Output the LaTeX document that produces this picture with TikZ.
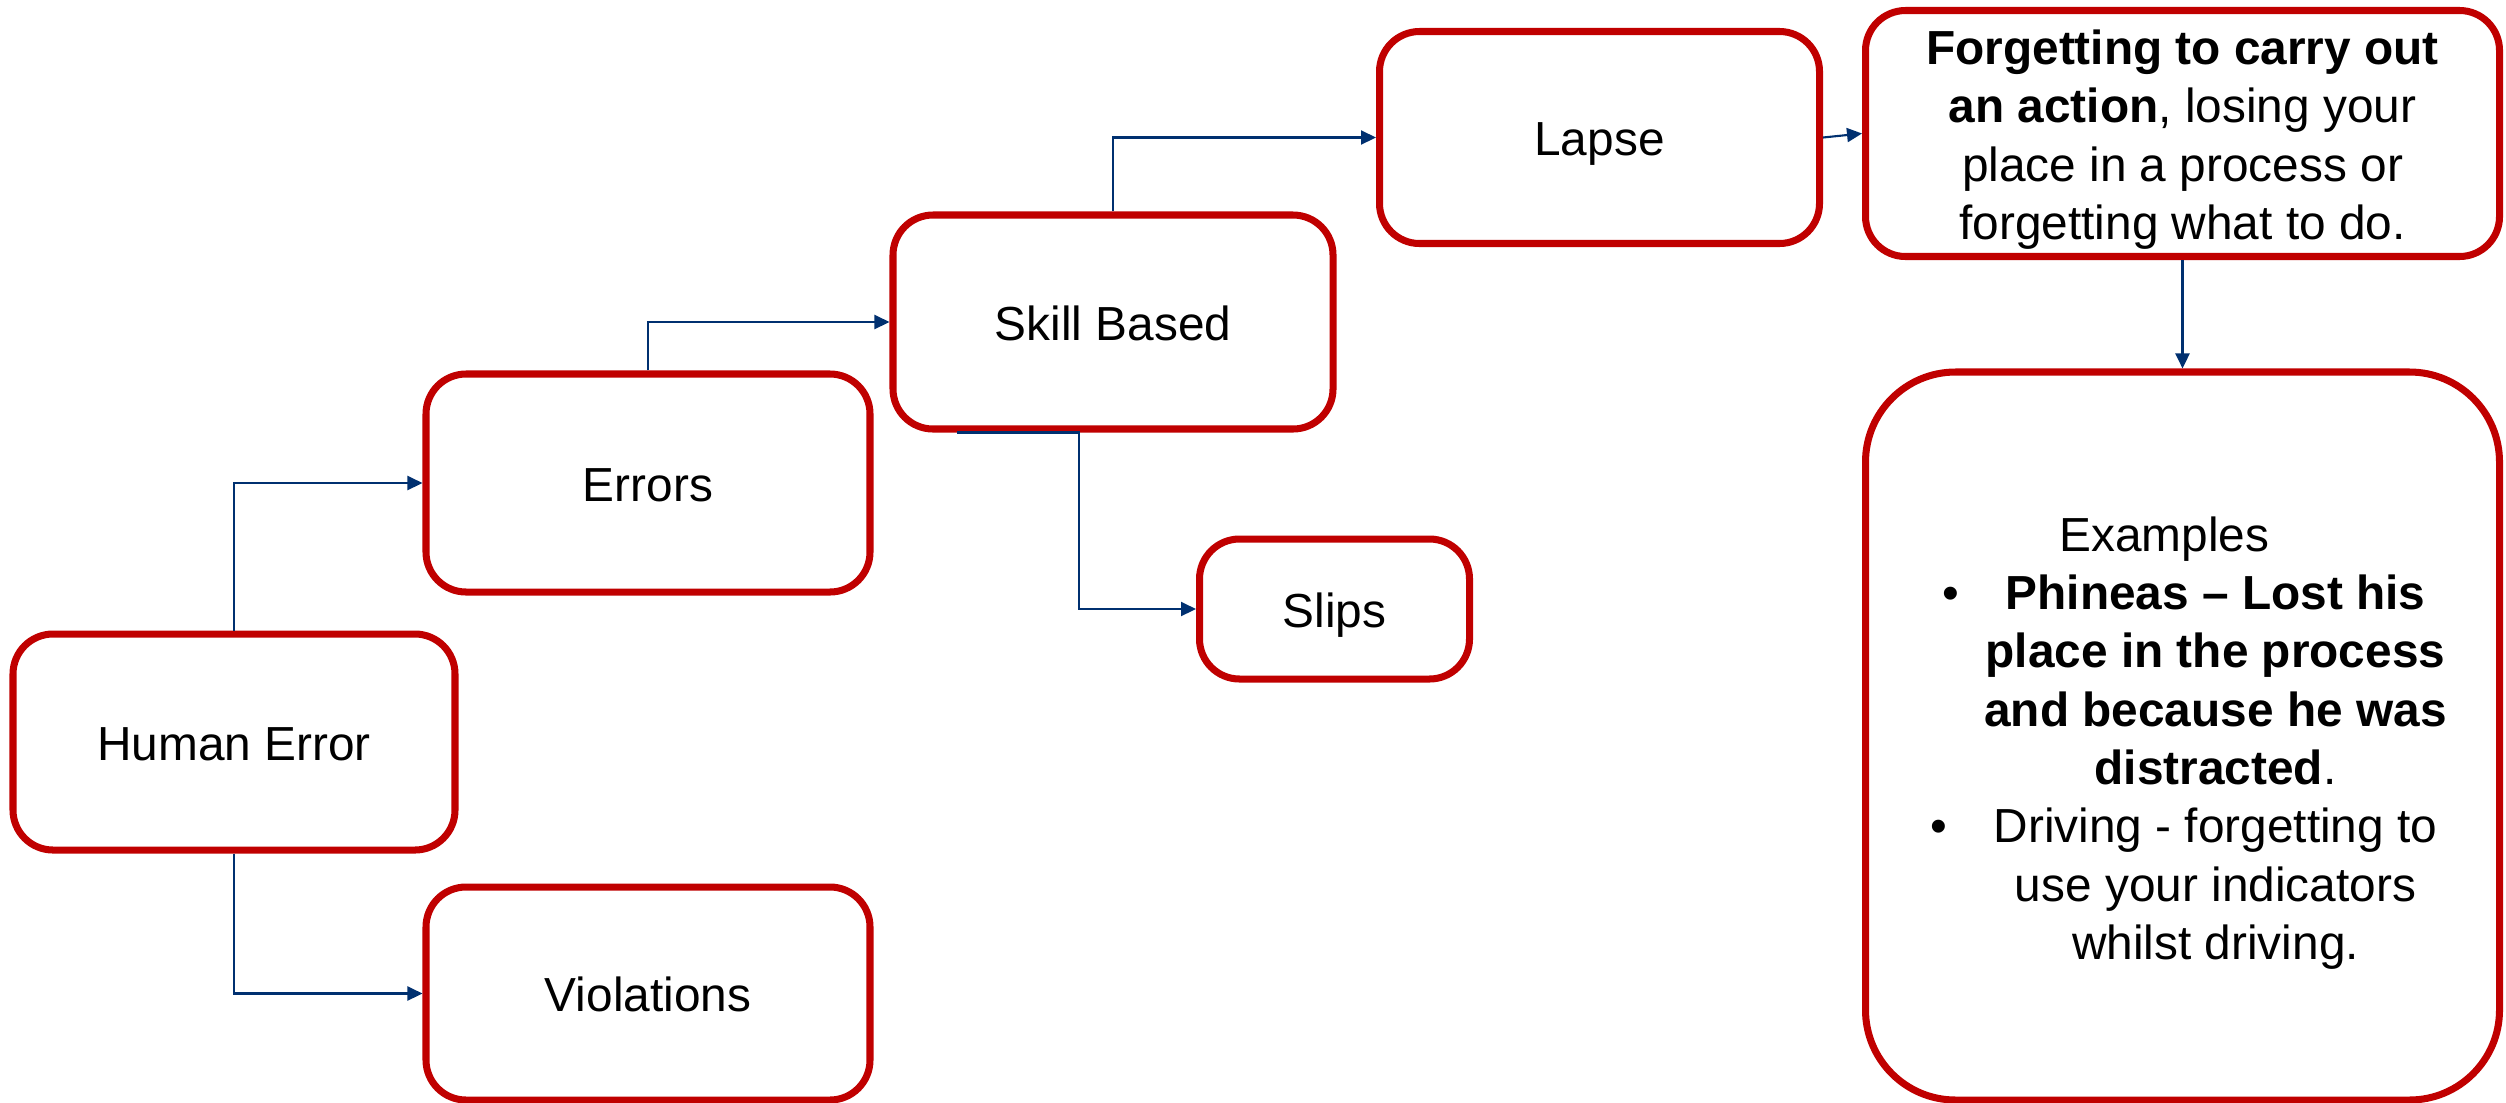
\documentclass[tikz,border=0pt]{standalone}
\usepackage{fontspec}
\setmainfont{Liberation Sans}
\usetikzlibrary{arrows.meta}
\definecolor{boxred}{RGB}{192,0,0}
\definecolor{linkblue}{RGB}{0,48,112}
\tikzset{
  frame/.style={draw=boxred, line width=2pt, rounded corners=4mm, fill=white, inner sep=0pt},
  box/.style={frame, align=center, text height=10.4pt, text depth=0pt,
    font=\fontsize{13.6}{16.4}\selectfont},
  plain/.style={align=center, inner sep=0pt, font=\fontsize{13.6}{16.6}\selectfont},
  conn/.style={draw=linkblue, line width=0.6pt, -{Triangle[length=1.5mm,width=1.4mm]}},
}
\newcommand{\itembullet}{\llap{\textbullet\hspace{4.6mm}}}
\begin{document}
\begin{tikzpicture}
  \fill[white] (0,0) rectangle (25.06,-11.02);
  \useasboundingbox (0,0) rectangle (25.06,-11.02);

  % boxes
  \node[box, minimum width=4.42cm, minimum height=2.16cm] (he) at (2.34,-7.42) {Human Error};
  \node[box, minimum width=4.44cm, minimum height=2.18cm] (err) at (6.48,-4.83) {Errors};
  \node[box, minimum width=4.44cm, minimum height=2.13cm] (vio) at (6.48,-9.935) {Violations};
  \node[box, minimum width=4.40cm, minimum height=2.14cm] (sb) at (11.13,-3.22) {Skill Based};
  \node[box, minimum width=2.70cm, minimum height=1.40cm] (slips) at (13.345,-6.09) {Slips};
  \node[box, minimum width=4.40cm, minimum height=2.12cm] (lapse) at (15.995,-1.375) {Lapse};
  \node[frame, minimum width=6.34cm, minimum height=2.46cm] (forget) at (21.825,-1.335) {};
  \node[frame, rounded corners=9mm, minimum width=6.34cm, minimum height=7.28cm] (ex) at (21.825,-7.36) {};

  % box texts
  \node[plain] (forgettext) at ([yshift=-0.6mm]forget.center)
    {\textbf{Forgetting to carry out}\\ \textbf{an action}, losing your\\ place in a process or\\ forgetting what to do.};
  \node[plain] (extext) at ([xshift=3.3mm,yshift=-0.7mm]ex.center)
    {Examples\rule{10.2mm}{0pt}\\
     \itembullet\textbf{Phineas – Lost his}\\
     \textbf{place in the process}\\
     \textbf{and because he was}\\
     \textbf{distracted}.\\
     \itembullet Driving - forgetting to\\
     use your indicators\\
     whilst driving.};

  % connectors
  \coordinate (sbfoot) at ([xshift=-1.56cm]sb.south);
  \draw[conn] (he.north) |- (err.west);
  \draw[conn] (he.south) |- (vio.west);
  \draw[conn] (err.north) |- (sb.west);
  \draw[conn] (sb.north) |- (lapse.west);
  \draw[conn] (sbfoot) -- ++(1.22,0) |- (slips.west);
  \draw[conn] (lapse.east) -- (forget.west);
  \draw[conn] (forget.south) -- (ex.north);
\end{tikzpicture}
\end{document}
